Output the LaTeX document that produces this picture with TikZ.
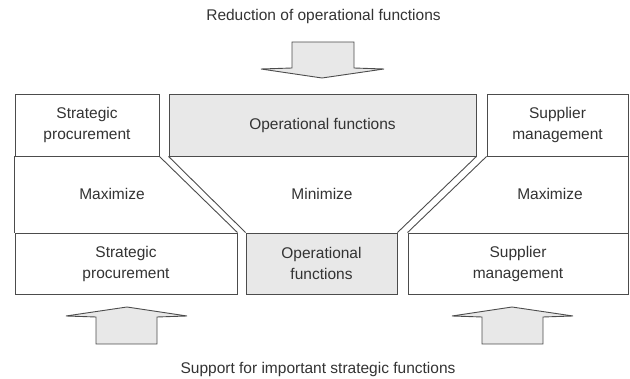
\documentclass[tikz,border=0pt]{standalone}
\usepackage{fontspec}
\setmainfont{Liberation Sans}
\begin{document}
\begin{tikzpicture}[x=1pt,y=-1pt,
  line/.style={draw=black!70,line width=0.9pt},
  txt/.style={text=black!80,font=\fontsize{15.5}{21}\selectfont,align=center,inner sep=0pt},
  wbox/.style={line,fill=white,txt,inner sep=0pt},
  gbox/.style={line,fill=black!9,txt,inner sep=0pt},
  bigarrow/.style={line,fill=black!9,line join=miter}]
\useasboundingbox (0,0) rectangle (630,379);
% boxes
\node[wbox,minimum width=144,minimum height=62] (sp1) at (87,125) {Strategic\\procurement};
\node[gbox,minimum width=307,minimum height=62] (op1) at (322.5,125) {Operational functions};
\node[wbox,minimum width=141,minimum height=62] (sm1) at (557.5,125) {Supplier\\management};
\node[wbox,minimum width=222,minimum height=61] (sp2) at (126,263.5) {Strategic\\procurement};
\node[gbox,minimum width=151,minimum height=61] (op2) at (321.5,263.5) {Operational\\functions};
\node[wbox,minimum width=220,minimum height=61] (sm2) at (518,263.5) {Supplier\\management};
% middle regions
\draw[line] (sp1.south west) -- (sp2.north west);
\draw[line] (sm1.south east) -- (sm2.north east);
\draw[line] (sp1.south east) -- (sp2.north east);
\draw[line] (op1.south west) -- (op2.north west);
\draw[line] (op1.south east) -- (op2.north east);
\draw[line] (sm1.south west) -- (sm2.north west);
\node[txt] (max1) at (112,194) {Maximize};
\node[txt] (min) at (322,194) {Minimize};
\node[txt] (max2) at (550,194) {Maximize};
% arrows
\draw[bigarrow] (292,42) -- (354,42) -- (354,68) -- (384,69) -- (322,78) -- (261,69) -- (292,68) -- cycle;
\draw[bigarrow] (96,344) -- (157,344) -- (157,317) -- (187,316) -- (127,307) -- (66,316) -- (96,317) -- cycle;
\draw[bigarrow] (482,344) -- (543,344) -- (543,317) -- (573,316) -- (512,307) -- (452,316) -- (482,317) -- cycle;
% labels
\node[txt] (top) at (323.5,16) {Reduction of operational functions};
\node[txt] (bot) at (318,369) {Support for important strategic functions};
\end{tikzpicture}
\end{document}
